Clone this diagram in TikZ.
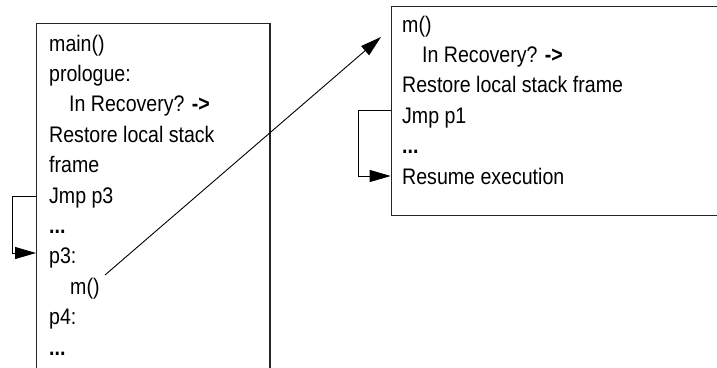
\documentclass[tikz,border=0pt]{standalone}
\usepackage{fontspec}
\setmainfont{Liberation Sans}[FakeStretch=0.87]
\usetikzlibrary{arrows.meta,calc}
\begin{document}
\begin{tikzpicture}[x=1pt,y=-1pt,
  txt/.style={anchor=base west,inner sep=0pt,font=\fontsize{22.5}{27}\selectfont},
  boxline/.style={draw=black!85,line width=1.2pt},
  conn/.style={draw=black,line width=0.9pt,-{Triangle[length=21pt,width=12pt]}}]
\useasboundingbox (0,0) rectangle (717,367);
\clip (0,0) rectangle (717,367);
% boxes
\node[boxline,anchor=north west,minimum width=233.3pt,minimum height=370pt,inner sep=0pt] (boxL) at (36,22.7) {};
\node[boxline,anchor=north west,minimum width=340pt,minimum height=209.3pt,inner sep=0pt] (boxR) at (390.7,5.7) {};
% left text
\node[txt] (l1) at (49,51) {main()};
\node[txt] (l2) at (49,81.4) {prologue:};
\node[txt] (l3) at (69,111.8) {In Recovery? \textbf{->}};
\node[txt] (l4) at (49,142.2) {Restore local stack};
\node[txt] (l5) at (49,172.6) {frame};
\node[txt] (l6) at (49,203) {Jmp p3};
\node[txt] (l7) at (49,233.4) {\textbf{...}};
\node[txt] (l8) at (49,263.8) {p3:};
\node[txt] (l9) at (70,294.2) {m()};
\node[txt] (l10) at (49,324.6) {p4:};
\node[txt] (l11) at (49,355) {\textbf{...}};
% right text
\node[txt] (r1) at (402,32) {m()};
\node[txt] (r2) at (422,62.4) {In Recovery? \textbf{->}};
\node[txt] (r3) at (402,92.8) {Restore local stack frame};
\node[txt] (r4) at (402,123.2) {Jmp p1};
\node[txt] (r5) at (402,153.6) {\textbf{...}};
\node[txt] (r6) at (402,184) {Resume execution};
% connector anchor points
\coordinate (jL) at (36,196);
\coordinate (pL) at (36,253);
\coordinate (jR) at (390.7,110);
\coordinate (pR) at (390.7,176);
\coordinate (mstart) at (105,275);
\coordinate (mend) at (381,37);
% connectors
\draw[conn] (jL) -- ++(-23.3,0) |- (pL);
\draw[conn] (jR) -- ++(-32.4,0) |- (pR);
\draw[conn] (mstart) -- (mend);
\end{tikzpicture}
\end{document}
